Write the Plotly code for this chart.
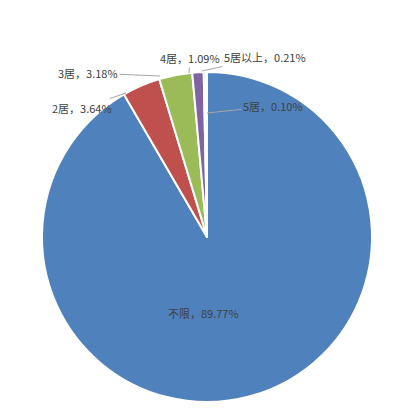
import plotly.graph_objects as go

labels = ["不限", "2居", "3居", "4居", "5居以上", "5居"]
values = [89.77, 3.64, 3.18, 1.09, 0.21, 0.10]
colors = ["#4F81BD", "#C0504D", "#9BBB59", "#8064A2", "#4BACC6", "#F79646"]

fig = go.Figure(go.Pie(
    labels=labels, values=values, sort=False, direction="clockwise", rotation=0,
    marker=dict(colors=colors, line=dict(color="white", width=2)),
    textinfo="none", hoverinfo="label+percent", showlegend=False,
))

OFF = 8  # page body offset
W, H = 405, 419
L, R, T, B = 42 - OFF, 33 + OFF, 72 - OFF, 17 + OFF
pw, ph = W - L - R, H - T - B
def px(x): return (x - OFF - L) / pw
def py(y): return (H - B - (y - OFF)) / ph

specs = [
    (1, 126, 93, -44, 15),
    (2, 160, 76, -72, -3),
    (3, 189, 73, 1, -15),
    (4, 202, 71, 63, -14),
    (5, 207, 113, 66, -7),
]
anns = []
for i, x, y, ax, ay in specs:
    anns.append(dict(x=px(x), y=py(y), xref="paper", yref="paper",
                     text=f"{labels[i]}，{values[i]:.2f}%", showarrow=True,
                     ax=ax, ay=ay, arrowhead=0, arrowwidth=1, arrowcolor="#A6A6A6",
                     standoff=0, startstandoff=0,
                     font=dict(size=11, color="#404040")))
anns.append(dict(x=px(203), y=py(323), xref="paper", yref="paper",
                 text=f"{labels[0]}，{values[0]:.2f}%", showarrow=False,
                 font=dict(size=11, color="#404040")))

fig.update_layout(width=W, height=H, margin=dict(l=L, r=R, t=T, b=B),
                  paper_bgcolor="white", annotations=anns,
                  font=dict(family="Noto Sans CJK SC"))
fig.write_html("out.html")
